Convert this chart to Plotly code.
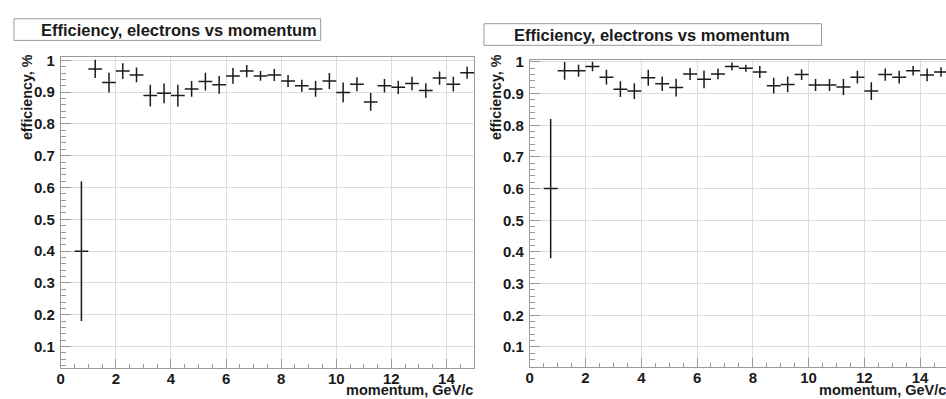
import plotly.graph_objects as go

# ---------------- data ----------------
momentum = [0.75, 1.25, 1.75, 2.25, 2.75, 3.25, 3.75, 4.25, 4.75, 5.25,
            5.75, 6.25, 6.75, 7.25, 7.75, 8.25, 8.75, 9.25, 9.75, 10.25,
            10.75, 11.25, 11.75, 12.25, 12.75, 13.25, 13.75, 14.25, 14.75]
bin_half_width = [0.25] * len(momentum)

eff_left = [0.40, 0.973, 0.930, 0.966, 0.954, 0.889, 0.896, 0.889, 0.910, 0.933,
            0.923, 0.951, 0.966, 0.951, 0.954, 0.935, 0.920, 0.910, 0.935, 0.899,
            0.925, 0.869, 0.920, 0.915, 0.927, 0.905, 0.944, 0.925, 0.961]
err_left = [0.22, 0.029, 0.031, 0.025, 0.023, 0.034, 0.031, 0.034, 0.025, 0.028,
            0.028, 0.025, 0.019, 0.015, 0.019, 0.019, 0.019, 0.025, 0.025, 0.031,
            0.022, 0.028, 0.021, 0.021, 0.021, 0.023, 0.021, 0.023, 0.019]

eff_right = [0.60, 0.972, 0.972, 0.986, 0.952, 0.914, 0.908, 0.950, 0.931, 0.919,
             0.962, 0.945, 0.962, 0.986, 0.980, 0.968, 0.925, 0.929, 0.960, 0.927,
             0.927, 0.921, 0.952, 0.908, 0.960, 0.952, 0.972, 0.959, 0.968]
err_right = [0.22, 0.028, 0.019, 0.015, 0.023, 0.025, 0.025, 0.025, 0.023, 0.028,
             0.019, 0.028, 0.017, 0.012, 0.011, 0.019, 0.025, 0.025, 0.017, 0.019,
             0.019, 0.025, 0.020, 0.028, 0.019, 0.020, 0.015, 0.020, 0.015]

x_tickvals = [0, 2, 4, 6, 8, 10, 12, 14]
x_ticktext = ["0", "2", "4", "6", "8", "10", "12", "14"]
y_tickvals = [0.1, 0.2, 0.3, 0.4, 0.5, 0.6, 0.7, 0.8, 0.9, 1.0]
y_ticktext = ["0.1", "0.2", "0.3", "0.4", "0.5", "0.6", "0.7", "0.8", "0.9", "1"]

title_text = "Efficiency, electrons vs momentum"
y_title = "efficiency, %"
x_title = "momentum, GeV/c"

# ---------------- figure ----------------
W, H = 946, 399
FONT = "Liberation Sans"
INK = "#1a1a1a"
FRAME = "#9a9a9a"
GRID = "#dcdcdc"

fig = go.Figure()

def add_series(xaxis, yaxis, y, err):
    fig.add_trace(go.Scatter(
        x=momentum, y=y, mode="markers",
        marker=dict(size=1, color=INK),
        error_x=dict(type="data", array=bin_half_width, width=0, thickness=1.5, color=INK),
        error_y=dict(type="data", array=err, width=0, thickness=1.5, color=INK),
        xaxis=xaxis, yaxis=yaxis, showlegend=False, hoverinfo="x+y",
    ))

add_series("x", "y", eff_left, err_left)
add_series("x2", "y2", eff_right, err_right)

tickfont = dict(family=FONT, size=15, color=INK, weight="bold")

def xaxis_cfg(domain, rng, anchor, mirror):
    return dict(
        domain=domain, range=rng, anchor=anchor,
        tickvals=x_tickvals, ticktext=x_ticktext,
        ticks="inside", ticklen=9, tickwidth=1, tickcolor=FRAME,
        minor=dict(ticks="inside", ticklen=4, dtick=0.5, tick0=0, tickcolor=FRAME,
                   showgrid=False),
        showgrid=True, gridcolor=GRID, gridwidth=1,
        showline=True, linecolor=FRAME, linewidth=1, mirror=mirror,
        zeroline=False, tickfont=tickfont, ticklabelstandoff=-3,
        fixedrange=True,
    )

def yaxis_cfg(domain, rng, anchor, mirror):
    return dict(
        domain=domain, range=rng, anchor=anchor,
        tickvals=y_tickvals, ticktext=y_ticktext,
        ticks="inside", ticklen=10, tickwidth=1, tickcolor=FRAME,
        minor=dict(ticks="inside", ticklen=5, dtick=0.02, tick0=0, tickcolor=FRAME,
                   showgrid=False),
        showgrid=True, gridcolor=GRID, gridwidth=1,
        showline=True, linecolor=FRAME, linewidth=1, mirror=mirror,
        zeroline=False, tickfont=tickfont, ticklabelstandoff=2,
        fixedrange=True,
    )

# left panel: x 57..472 px, y 51..367 px
fig.update_layout(
    xaxis=xaxis_cfg([57 / W, 472 / W], [0, 15], "y", True),
    yaxis=yaxis_cfg([1 - 367 / H, 1 - 51 / H], [0.034, 1.010], "x", True),
    # right panel: x 528..946 (cut by window), y 54..366 px
    xaxis2=xaxis_cfg([528 / W, 1.0], [0, (946 - 528) / 28.0], "y2", True),
    yaxis2=yaxis_cfg([1 - 366 / H, 1 - 54 / H], [0.038, 1.006], "x2", False),
)

# title boxes
fig.add_shape(type="rect", xref="paper", yref="paper",
              x0=10 / W, x1=318 / W, y0=1 - 34 / H, y1=1 - 12 / H,
              line=dict(color=FRAME, width=1), fillcolor="white", layer="above")
fig.add_shape(type="rect", xref="paper", yref="paper",
              x0=482 / W, x1=821 / W, y0=1 - 39 / H, y1=1 - 17 / H,
              line=dict(color=FRAME, width=1), fillcolor="white", layer="above")

title_font = dict(family=FONT, size=16.5, color=INK, weight="bold")
ytitle_font = dict(family=FONT, size=14.3, color=INK, weight="bold")
xtitle_font = dict(family=FONT, size=14.5, color=INK, weight="bold")

fig.add_annotation(text=title_text, xref="paper", yref="paper",
                   x=176 / W, y=1 - 23 / H, xanchor="center", yanchor="middle",
                   showarrow=False, font=title_font)
fig.add_annotation(text=title_text, xref="paper", yref="paper",
                   x=651 / W, y=1 - 28 / H, xanchor="center", yanchor="middle",
                   showarrow=False, font=title_font)

# y-axis titles (rotated, aligned toward the top of the axis)
fig.add_annotation(text=y_title, xref="paper", yref="paper",
                   x=23 / W, y=1 - 46 / H, xanchor="center", yanchor="top",
                   textangle=-90, showarrow=False, font=ytitle_font)
fig.add_annotation(text=y_title, xref="paper", yref="paper",
                   x=494 / W, y=1 - 46 / H, xanchor="center", yanchor="top",
                   textangle=-90, showarrow=False, font=ytitle_font)

# x-axis titles (right-aligned at axis end)
fig.add_annotation(text=x_title, xref="paper", yref="paper",
                   x=473 / W, y=-1 / H, xanchor="right", yanchor="bottom",
                   showarrow=False, font=xtitle_font)
fig.add_annotation(text=x_title, xref="paper", yref="paper",
                   x=948 / W, y=-1 / H, xanchor="right", yanchor="bottom",
                   showarrow=False, font=xtitle_font)

fig.update_layout(
    width=W, height=H,
    margin=dict(l=0, r=0, t=0, b=0),
    paper_bgcolor="white", plot_bgcolor="white",
    font=dict(family=FONT, color=INK),
    showlegend=False,
)

fig.write_html("out.html", config={"displayModeBar": False})
